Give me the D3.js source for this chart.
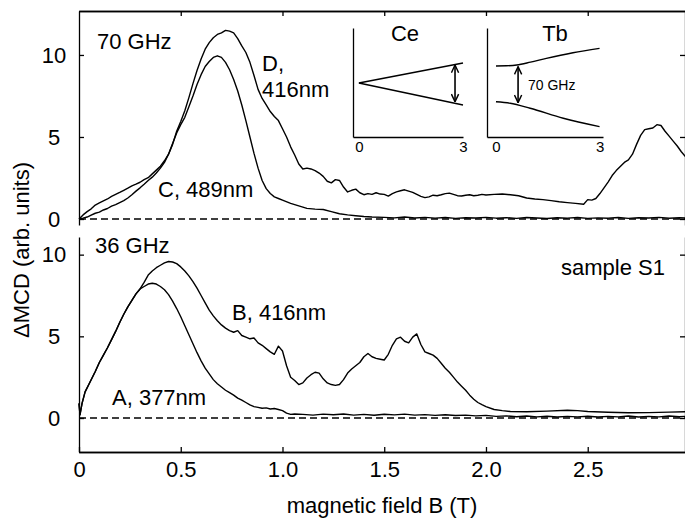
<!DOCTYPE html>
<html lang="en">
<head>
<meta charset="UTF-8">
<title>Delta MCD vs magnetic field</title>
<style>
    body { margin: 0; background: #fff; }
    svg { display: block; font-family: "Liberation Sans", Arial, sans-serif; }
    .axis path, .axis line { stroke: #000; stroke-width: 1.3; }
    .axis text { font-family: "Liberation Sans", Arial, sans-serif; font-size: 22px; fill: #000; }
    .inset .axis text { font-size: 15px; }
    .trace { fill: none; stroke: #000; stroke-width: 1.4; stroke-linejoin: round; }
    .zero { stroke: #000; stroke-width: 1.4; stroke-dasharray: 7,4; }
    .label { font-size: 22px; fill: #000; }
</style>
<script src="https://d3js.org/d3.v7.min.js"></script>
</head>
<body>
<div id="chart"></div>
<script>
// ---- top panel, 70 GHz ----
const fieldD = [0,0.02,0.04,0.06,0.08,0.10,0.12,0.14,0.16,0.18,0.20,0.22,0.24,0.26,0.28,0.30,0.32,0.34,0.36,0.38,
    0.40,0.42,0.44,0.46,0.48,0.50,0.52,0.54,0.56,0.58,0.60,0.62,0.64,0.66,0.68,0.70,0.72,0.74,0.76,0.78,
    0.80,0.82,0.84,0.86,0.88,0.90,0.92,0.94,0.96,0.98,1.00,1.02,1.04,1.06,1.08,1.10,1.12,1.14,1.16,1.18,
    1.20,1.22,1.24,1.26,1.28,1.30,1.32,1.34,1.36,1.38,1.40,1.42,1.44,1.46,1.48,1.50,1.52,1.54,1.56,1.58,
    1.60,1.62,1.64,1.66,1.68,1.70,1.72,1.74,1.76,1.78,1.80,1.82,1.84,1.86,1.88,1.90,1.92,1.94,1.96,1.98,
    2.00,2.04,2.08,2.12,2.16,2.20,2.24,2.28,2.32,2.36,2.40,2.44,2.48,
    2.50,2.52,2.54,2.56,2.58,2.60,2.62,2.64,2.66,2.68,2.70,2.72,2.74,2.76,2.78,2.80,2.82,2.84,2.86,2.88,
    2.90,2.92,2.94,2.96,2.98];
const valD = [0.00,0.25,0.45,0.62,0.85,0.98,1.10,1.22,1.38,1.50,1.62,1.75,1.88,2.02,2.12,2.24,2.40,2.52,2.75,2.98,
    3.22,3.55,3.95,4.55,5.35,5.95,6.60,7.40,8.25,9.05,9.75,10.35,10.75,11.05,11.25,11.35,11.50,11.45,11.35,11.00,
    10.55,10.15,9.55,8.75,7.90,7.35,6.95,6.55,6.25,6.00,5.50,5.00,4.40,3.90,3.35,3.05,3.10,3.05,2.95,2.80,
    2.60,2.30,2.20,2.40,2.35,1.95,1.65,1.75,1.82,1.60,1.48,1.55,1.50,1.60,1.52,1.50,1.40,1.55,1.65,1.72,
    1.78,1.70,1.62,1.50,1.38,1.30,1.35,1.45,1.42,1.48,1.55,1.58,1.50,1.42,1.40,1.45,1.48,1.42,1.45,1.50,
    1.46,1.50,1.52,1.48,1.42,1.28,1.22,1.18,1.12,1.05,1.00,0.95,0.90,
    1.18,1.15,1.25,1.55,1.90,2.25,2.65,2.95,3.20,3.45,3.60,3.95,4.55,5.10,5.45,5.50,5.55,5.75,5.70,5.35,
    5.05,4.75,4.45,4.10,3.80];

const fieldC = [0,0.02,0.04,0.06,0.08,0.10,0.12,0.14,0.16,0.18,0.20,0.22,0.24,0.26,0.28,0.30,0.32,0.34,0.36,0.38,
    0.40,0.42,0.44,0.46,0.48,0.50,0.52,0.54,0.56,0.58,0.60,0.62,0.64,0.66,0.68,0.70,0.72,0.74,0.76,0.78,
    0.80,0.82,0.84,0.86,0.88,0.90,0.92,0.94,0.96,0.98,1.00,
    1.04,1.08,1.12,1.16,1.20,1.24,1.28,1.32,1.36,1.40,1.44,
    1.50,1.55,1.60,1.65,1.70,1.75,1.80,1.85,1.90,1.95,2.00,2.05,2.10,2.15,2.20,2.25,2.30,2.35,2.40,2.45,
    2.50,2.55,2.60,2.65,2.70,2.75,2.80,2.85,2.90,2.95,2.98];
const valC = [0.00,0.05,0.12,0.24,0.35,0.42,0.55,0.64,0.78,0.88,1.00,1.12,1.28,1.48,1.70,1.90,2.12,2.35,2.55,2.80,
    3.10,3.45,3.95,4.60,5.25,5.75,6.20,6.85,7.50,8.20,8.80,9.30,9.60,9.85,9.95,9.85,9.55,9.10,8.50,7.80,
    6.95,6.00,5.00,4.00,3.10,2.35,1.85,1.55,1.35,1.25,1.15,
    0.95,0.80,0.65,0.60,0.58,0.45,0.32,0.25,0.20,0.15,0.12,
    0.10,0.07,0.12,0.06,0.10,0.05,0.09,0.04,0.08,0.06,0.10,0.05,0.08,0.04,0.09,0.06,0.03,0.08,0.05,0.09,
    0.04,0.07,0.05,0.09,0.04,0.08,0.06,0.10,0.05,0.08,0.06];

// ---- bottom panel, 36 GHz ----
const fieldA = [0,0.005,0.015,0.03,0.05,0.08,0.10,0.12,0.14,0.16,0.18,0.20,0.22,0.24,0.26,0.28,0.30,
    0.32,0.34,0.36,0.38,0.40,0.42,0.44,0.46,0.48,0.50,0.52,0.54,0.56,0.58,0.60,0.62,0.64,0.66,0.68,0.70,
    0.72,0.74,0.76,0.78,0.80,0.82,0.84,0.86,0.88,0.90,0.92,0.94,0.96,0.98,1.00,1.02,1.04,1.06,
    1.10,1.15,1.20,1.25,1.30,1.35,1.40,1.45,1.50,1.55,1.60,1.65,1.70,1.75,1.80,1.85,1.90,1.95,2.00,2.05,
    2.10,2.15,2.20,2.25,2.30,2.35,2.40,2.45,2.50,2.55,2.60,2.65,2.70,2.75,2.80,2.85,2.90,2.95,2.98];
const valA = [0.9,0.2,0.9,1.6,2.1,2.85,3.4,3.85,4.3,4.8,5.3,5.85,6.35,6.8,7.2,7.6,7.9,
    8.05,8.2,8.25,8.2,8.05,7.85,7.55,7.15,6.7,6.2,5.65,5.1,4.55,4.0,3.5,3.05,2.7,2.35,2.1,1.9,
    1.7,1.55,1.4,1.22,1.1,0.95,0.8,0.7,0.65,0.6,0.62,0.55,0.58,0.52,0.45,0.3,0.22,0.25,
    0.22,0.18,0.24,0.20,0.25,0.18,0.22,0.17,0.23,0.19,0.24,0.18,0.21,0.16,0.20,0.15,0.18,0.13,0.16,0.10,
    0.13,0.08,0.12,0.07,0.11,0.06,0.10,0.07,0.11,0.06,0.10,0.07,0.12,0.06,0.10,0.07,0.12,0.08,0.10];

const fieldB = [0,0.005,0.015,0.03,0.05,0.08,0.10,0.12,0.14,0.16,0.18,0.20,0.22,0.24,0.26,0.28,0.30,
    0.32,0.34,0.36,0.38,0.40,0.42,0.44,0.46,0.48,0.50,0.52,0.54,0.56,0.58,0.60,0.62,0.64,0.66,0.68,0.70,
    0.72,0.74,0.76,0.78,0.80,0.82,0.84,0.86,0.88,0.90,0.92,0.94,0.96,0.98,1.00,1.02,1.04,1.06,1.08,1.10,
    1.12,1.14,1.16,1.18,1.20,1.22,1.24,1.26,1.28,1.30,1.32,1.34,1.36,1.38,1.40,1.42,1.44,1.46,1.48,1.50,
    1.52,1.54,1.56,1.58,1.60,1.62,1.64,1.66,1.68,1.70,1.72,1.74,1.76,1.78,1.80,1.82,1.84,1.86,1.88,1.90,
    1.92,1.94,1.96,1.98,2.00,2.04,2.08,2.12,2.20,2.30,2.40,2.45,2.50,2.60,2.70,2.80,2.90,2.98];
const valB = [0.9,0.2,0.9,1.6,2.1,2.85,3.4,3.85,4.3,4.8,5.3,5.85,6.35,6.8,7.2,7.6,7.9,
    8.3,8.75,9.0,9.2,9.35,9.5,9.58,9.55,9.45,9.25,9.0,8.7,8.35,7.95,7.5,7.05,6.6,6.25,5.95,5.7,
    5.5,5.35,5.25,5.35,5.05,4.95,4.85,4.9,4.6,4.45,4.25,4.05,3.9,4.4,4.1,3.2,2.5,2.3,2.05,2.15,
    2.45,2.65,2.8,2.75,2.4,2.15,2.05,2.0,2.05,2.35,2.75,3.0,3.2,3.4,3.75,3.95,3.75,3.65,3.6,3.55,
    3.9,4.45,4.85,4.95,4.7,4.6,4.95,5.15,4.5,4.05,3.95,3.85,3.65,3.35,3.05,2.8,2.5,2.2,1.95,1.7,
    1.4,1.15,0.95,0.82,0.7,0.52,0.45,0.4,0.38,0.42,0.48,0.45,0.4,0.35,0.32,0.33,0.36,0.38];

// ---- inset level diagrams (field 0..3 T, arbitrary energy) ----
const ceField = [0, 3];
const ceUpper = [2.97, 4.07];
const ceLower = [2.97, 1.76];
const ceArrow = {field: 2.77, from: 3.96, to: 1.94};
const tbFieldUp = [0, 0.3, 0.6, 1.0, 1.46, 2.23, 3.0];
const tbUpper = [3.91, 3.92, 3.96, 4.12, 4.33, 4.64, 4.88];
const tbFieldLow = [0, 0.41, 0.99, 1.95, 3.0];
const tbLower = [1.94, 1.86, 1.58, 1.03, 0.57];
const tbArrow = {field: 0.64, from: 3.87, to: 1.89};

const xTicks = [0, 0.5, 1.0, 1.5, 2.0, 2.5];
const yTicks = [0, 5, 10];

const width = 685, height = 521;
const svg = d3.select('#chart').append('svg')
    .attr('width', width)
    .attr('height', height);

const x = d3.scaleLinear().domain([0, 2.98]).range([79, 685.4]);
const yTop = d3.scaleLinear().domain([-0.366, 12.68]).range([225, 11]);
const yBot = d3.scaleLinear().domain([-2.08, 11.08]).range([452, 237]);

const defs = svg.append('defs');
defs.append('marker')
    .attr('id', 'head')
    .attr('viewBox', '0 0 10 10')
    .attr('refX', 9.5).attr('refY', 5)
    .attr('markerWidth', 9).attr('markerHeight', 9)
    .attr('markerUnits', 'userSpaceOnUse')
    .attr('orient', 'auto-start-reverse')
    .append('path')
    .attr('d', 'M1,1 L9.5,5 L1,9')
    .attr('fill', 'none')
    .attr('stroke', '#000')
    .attr('stroke-width', 1.6);

function drawFrame(y) {
    svg.append('g').attr('class', 'axis')
        .attr('transform', 'translate(79,0)')
        .call(d3.axisLeft(y).tickValues(yTicks).tickSizeInner(-5).tickSizeOuter(0).tickPadding(25))
        .selectAll('text').attr('text-anchor', 'middle');
    svg.append('g').attr('class', 'axis')
        .attr('transform', 'translate(685,0)')
        .call(d3.axisRight(y).tickValues(yTicks).tickSizeInner(-5).tickSizeOuter(0).tickFormat(''));
    svg.append('line').attr('class', 'zero')
        .attr('x1', x(0)).attr('x2', x.range()[1])
        .attr('y1', y(0)).attr('y2', y(0));
}

function drawTrace(fields, vals, y) {
    const line = d3.line().x(d => x(d[0])).y(d => y(d[1]));
    svg.append('path').attr('class', 'trace')
        .attr('d', line(d3.zip(fields, vals)));
}

function label(txt, px, py, size) {
    svg.append('text').attr('class', 'label')
        .attr('x', px).attr('y', py)
        .style('font-size', (size || 22) + 'px')
        .text(txt);
}

// top panel
drawFrame(yTop);
svg.append('g').attr('class', 'axis')
    .attr('transform', 'translate(0,11)')
    .call(d3.axisTop(x).tickValues(xTicks.slice(1)).tickSizeInner(-5).tickSizeOuter(0).tickFormat(''));
svg.append('line').attr('stroke', '#000').attr('stroke-width', 1.3)
    .attr('x1', 79).attr('x2', 686).attr('y1', 11.5).attr('y2', 11.5);
drawTrace(fieldC, valC, yTop);
drawTrace(fieldD, valD, yTop);

// bottom panel
drawFrame(yBot);
svg.append('g').attr('class', 'axis')
    .attr('transform', 'translate(0,452)')
    .call(d3.axisBottom(x).tickValues(xTicks).tickSizeInner(-5).tickSizeOuter(0).tickPadding(9)
        .tickFormat(d => d === 0 ? '0' : d3.format('.1f')(d)));
svg.append('line').attr('stroke', '#000').attr('stroke-width', 1.3)
    .attr('x1', 79).attr('x2', 686).attr('y1', 452.5).attr('y2', 452.5);
drawTrace(fieldA, valA, yBot);
drawTrace(fieldB, valB, yBot);

// insets
function drawInset(x0, x1, domain, title, titleX, curves, arrow) {
    const xi = d3.scaleLinear().domain(domain).range([x0, x1]);
    const yi = d3.scaleLinear().domain([0, 6]).range([137, 28]);
    const g = svg.append('g').attr('class', 'inset');
    g.append('g').attr('class', 'axis')
        .attr('transform', 'translate(0,137)')
        .call(d3.axisBottom(xi).tickValues([0, 3]).tickSize(0).tickPadding(4).tickFormat(d3.format('d')));
    g.append('g').attr('class', 'axis')
        .attr('transform', 'translate(' + x0 + ',0)')
        .call(d3.axisLeft(yi).tickValues([]).tickSize(0));
    const line = d3.line().x(d => xi(d[0])).y(d => yi(d[1])).curve(d3.curveMonotoneX);
    curves.forEach(c => {
        g.append('path').attr('class', 'trace').attr('stroke-width', 1.6)
            .attr('d', line(d3.zip(c[0], c[1])));
    });
    g.append('line')
        .attr('x1', xi(arrow.field)).attr('x2', xi(arrow.field))
        .attr('y1', yi(arrow.from)).attr('y2', yi(arrow.to))
        .attr('stroke', '#000').attr('stroke-width', 1.6)
        .attr('marker-start', 'url(#head)').attr('marker-end', 'url(#head)');
    g.append('text').attr('class', 'label')
        .attr('x', titleX).attr('y', 41).attr('text-anchor', 'middle')
        .text(title);
    return xi;
}
drawInset(353, 463, [-0.17, 3], 'Ce', 405, [[ceField, ceUpper], [ceField, ceLower]], ceArrow);
drawInset(487, 603, [-0.26, 3.1], 'Tb', 555, [[tbFieldUp, tbUpper], [tbFieldLow, tbLower]], tbArrow);
label('70 GHz', 528, 90, 14);

// annotations
label('70 GHz', 97, 49);
label('D,', 262, 71);
label('416nm', 262, 97);
label('C, 489nm', 158, 197);
label('36 GHz', 95, 253);
label('B, 416nm', 232, 320);
label('A, 377nm', 112, 405);
label('sample S1', 561, 275);

// axis titles
svg.append('text').attr('class', 'label')
    .attr('x', 382).attr('y', 513).attr('text-anchor', 'middle')
    .text('magnetic field B (T)');
svg.append('text').attr('class', 'label')
    .attr('transform', 'translate(29,250) rotate(-90)')
    .attr('text-anchor', 'middle')
    .text('\u0394MCD (arb. units)');
</script>
</body>
</html>
